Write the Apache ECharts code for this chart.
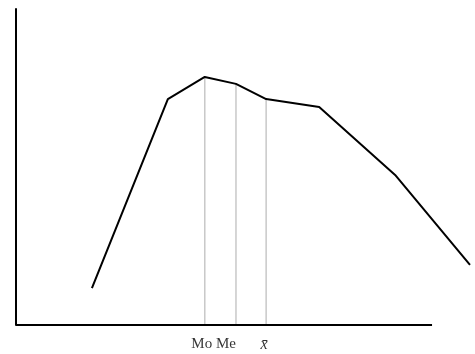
<!DOCTYPE html>
<html>
<head>
<meta charset="utf-8">
<script src="https://cdn.jsdelivr.net/npm/echarts@6/dist/echarts.min.js"></script>
<style>html,body{margin:0;padding:0;background:#fff}#c{width:475px;height:354px}</style>
</head>
<body>
<div id="c"></div>
<script>
// Frequency polygon (x in arbitrary units, y in arbitrary units)
var polyX = [14.6, 29.2, 36.3, 42.3, 48.1, 58.3, 72.9, 87.3];
var polyY = [11.7, 71.5, 78.5, 76.3, 71.5, 69.0, 47.5, 19.0];
// Measures of central tendency
var measureNames = ['Mo', 'Me', 'x̄'];
var measureX = [36.3, 42.3, 48.1];
var measureY = [78.5, 76.3, 71.5];
// Horizontal axis extent (drawn shorter than the plotting area)
var axisXEnd = 80;

var chart = echarts.init(document.getElementById('c'));
var series = [];
series.push({
  type: 'line', silent: true, symbol: 'none', z: 2,
  lineStyle: { color: '#000', width: 2 },
  data: [[0, 0], [axisXEnd, 0]]
});
measureX.forEach(function (x, i) {
  series.push({
    type: 'line', silent: true, symbol: 'none', z: 1,
    lineStyle: { color: '#c8c8c8', width: 1.5 },
    data: [[x, 0], [x, measureY[i]]]
  });
});
series.push({
  type: 'line', symbol: 'none', clip: false, z: 3,
  lineStyle: { color: '#000', width: 2 },
  data: polyX.map(function (x, i) { return [x, polyY[i]]; })
});
var labelOffsets = [[-3, 0], [-10, 0], [-2, 0]];
series.push({
  type: 'scatter', symbolSize: 0, z: 4,
  data: measureX.map(function (x, i) {
    return {
      value: [x, 0],
      label: {
        show: true, position: 'bottom', distance: 12, offset: labelOffsets[i],
        formatter: measureNames[i],
        fontFamily: 'Liberation Serif', fontSize: i === 2 ? 16 : 15, color: '#000',
        fontStyle: i === 2 ? 'italic' : 'normal'
      }
    };
  })
});
chart.setOption({
  animation: false,
  grid: { left: 16, right: 5, top: 9, bottom: 29 },
  xAxis: {
    type: 'value', min: 0, max: 87.3,
    axisLine: { show: false },
    axisTick: { show: false }, axisLabel: { show: false }, splitLine: { show: false }
  },
  yAxis: {
    type: 'value', min: 0, max: 100,
    axisLine: { show: true, onZero: false, lineStyle: { color: '#000', width: 2 } },
    axisTick: { show: false }, axisLabel: { show: false }, splitLine: { show: false }
  },
  series: series
});
</script>
</body>
</html>
